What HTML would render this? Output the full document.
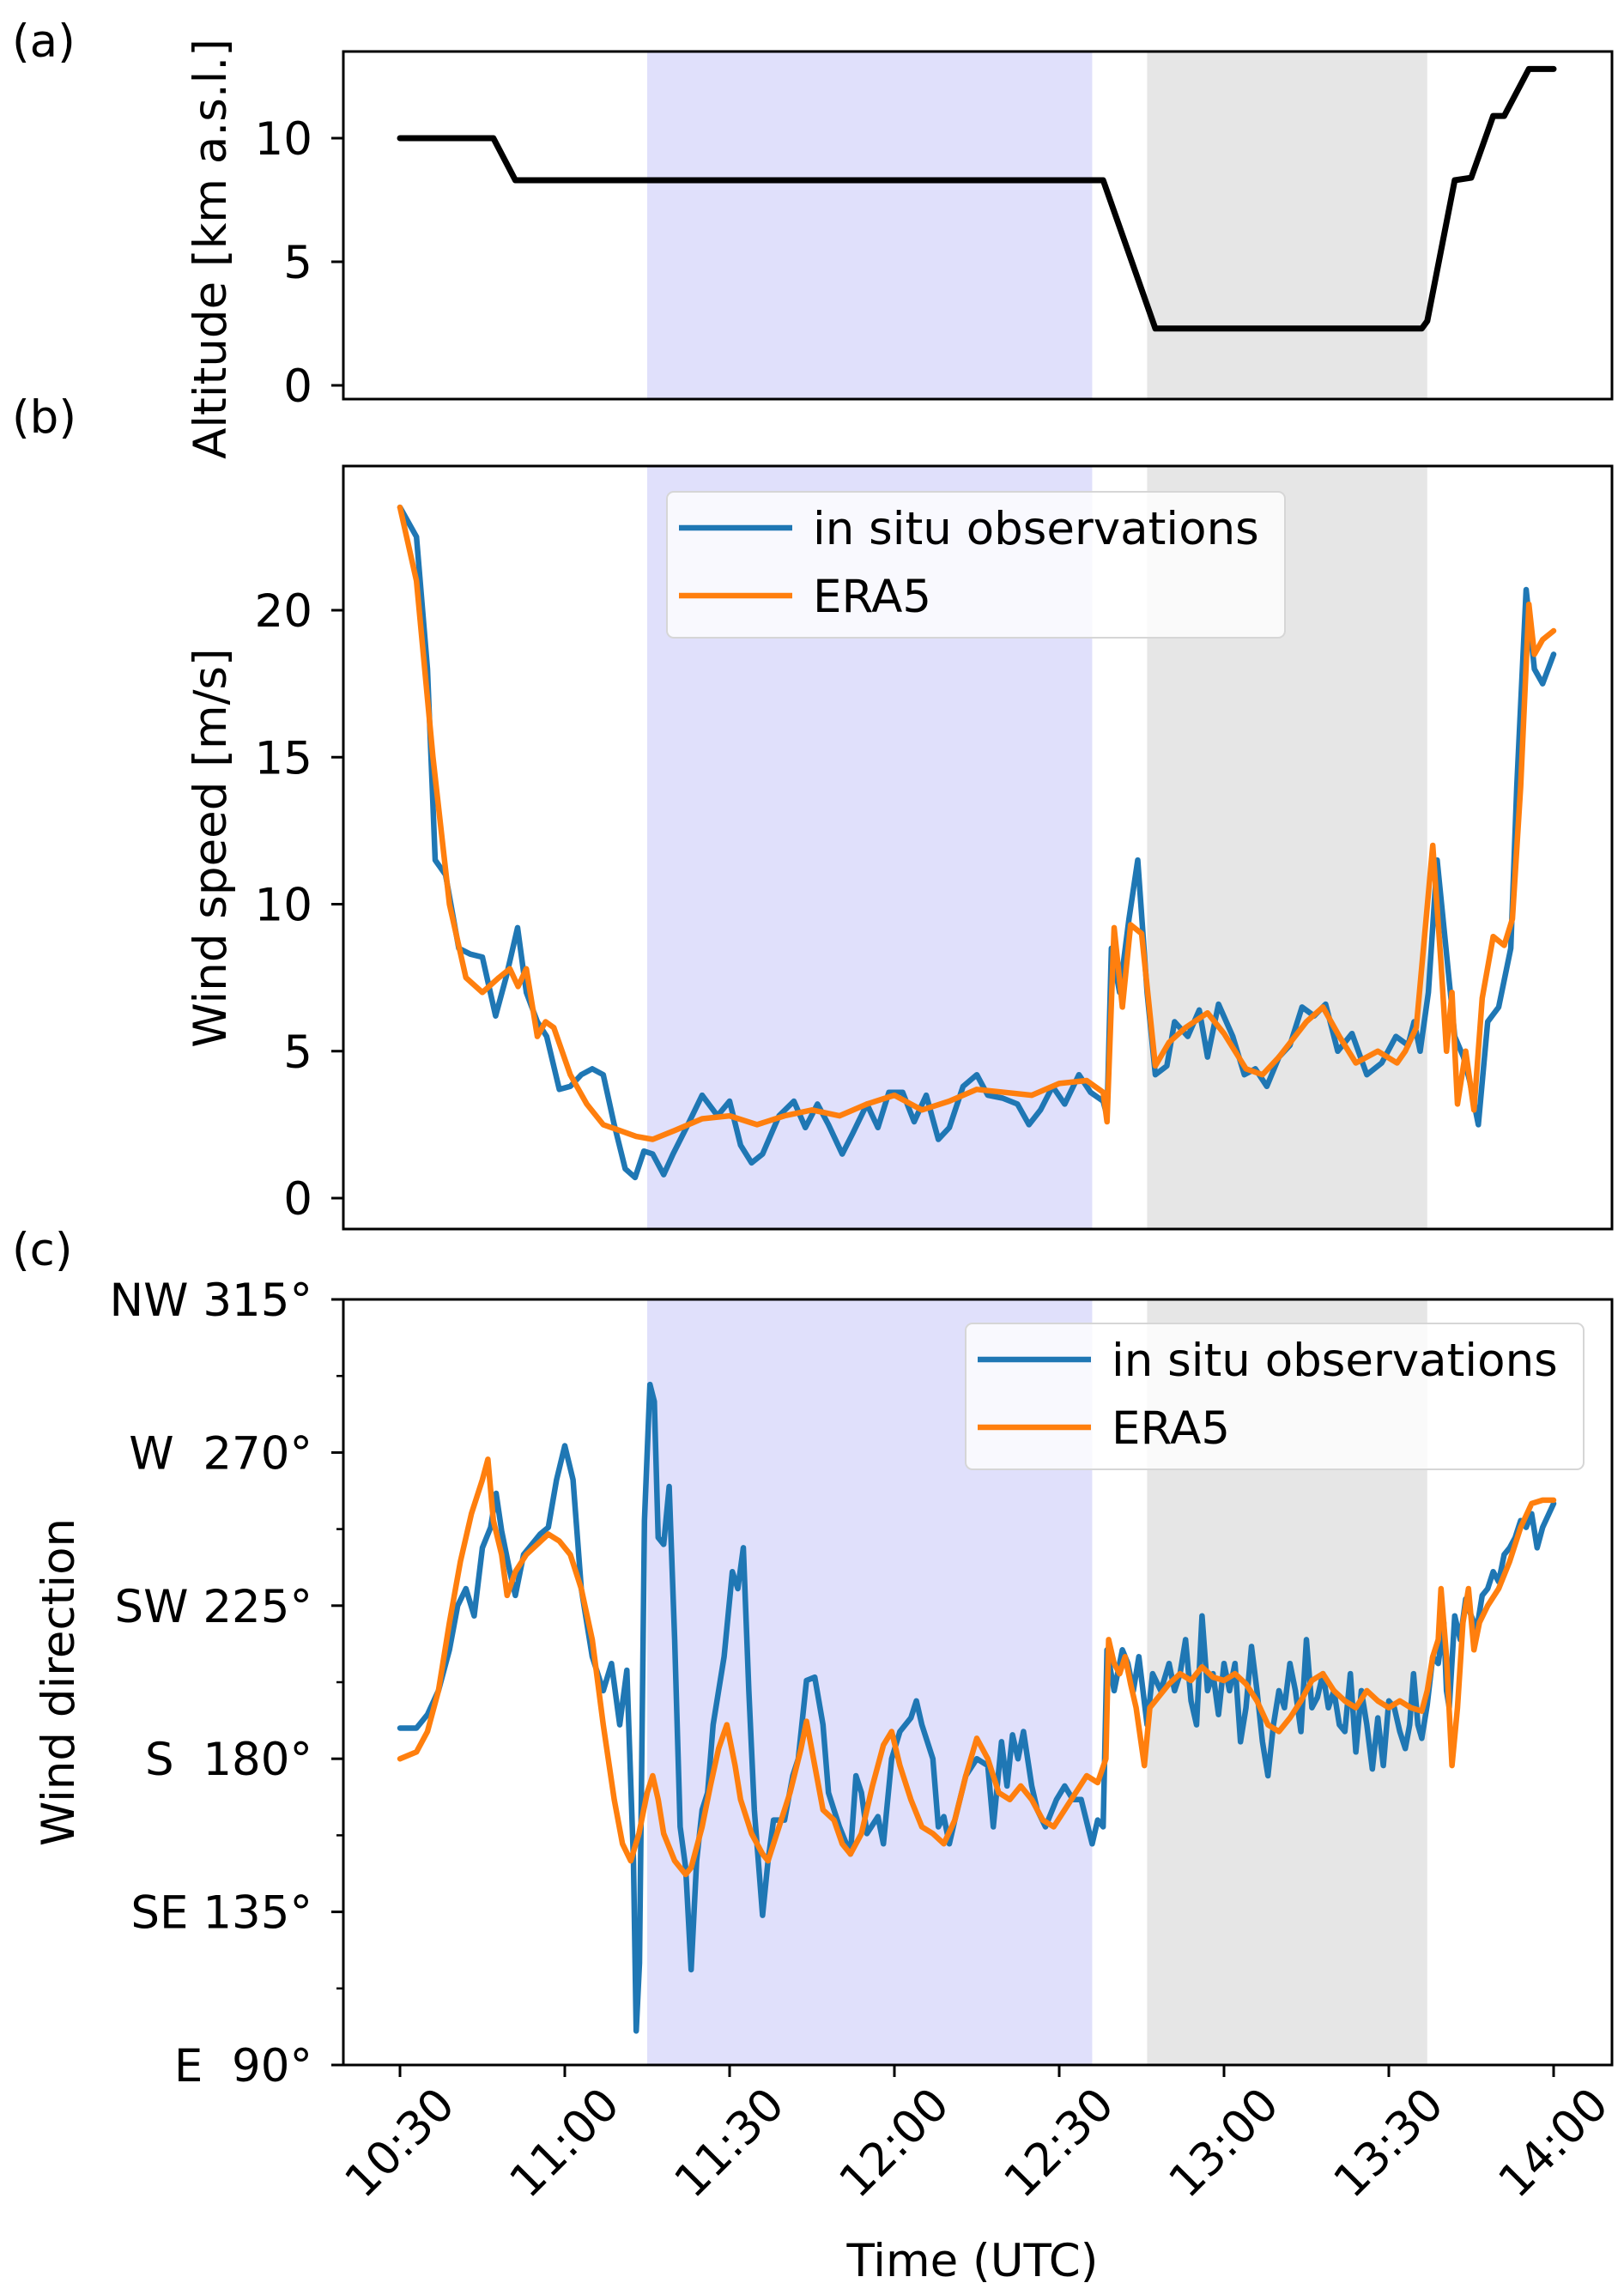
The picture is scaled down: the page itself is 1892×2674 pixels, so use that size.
<!DOCTYPE html>
<html><head><meta charset="utf-8"><style>
html,body{margin:0;padding:0;background:#fff;}
svg{display:block;font-family:"DejaVu Sans","Liberation Sans",sans-serif;}
</style></head><body>
<svg id="chart" width="1892" height="2674" viewBox="0 0 1892 2674" xmlns="http://www.w3.org/2000/svg"></svg>
<script>
// ---- data (minutes after 10:30 UTC) ----
const xTickLabels = ["10:30","11:00","11:30","12:00","12:30","13:00","13:30","14:00"];
const xTickMinutes = [0,30,60,90,120,150,180,210];
const blueBand = [45,126];
const grayBand = [136,187];
const altT = [0,17,21,128,137.5,186,187,192,195,199,201,205.5,210];
const altV = [10,10,8.3,8.3,2.3,2.3,2.6,8.3,8.4,10.9,10.9,12.8,12.8];
const spdObsT = [0,3,5,6.4,8.3,10.7,12.8,15,17.4,19.3,21.4,23,25,26.7,29,31,33,35,37,39,41,42.8,44.4,46,48,49.7,52.4,55,57.8,60,62,64,66,69,71.7,73.8,76,78,80.5,82.4,85,87,89,91.5,93.6,95.8,98,100,102.5,105,107,109.7,112.4,114.5,116.6,118.8,121,123.6,125.7,128,128.7,129.5,131,132.7,134.3,136,137.5,139.6,141,143.4,145.5,147,149,151.6,153.7,155.7,157.8,160,162,164.2,166.4,168.5,170.7,173.3,176,178.7,181.3,183.5,184.6,185.7,187.2,188.8,190.4,192,193.6,194.7,196.3,198,200,202.2,203.3,205,206.5,208,210];
const spdObsV = [23.5,22.5,18,11.5,11,8.5,8.3,8.2,6.2,7.5,9.2,7,6,5.5,3.7,3.8,4.2,4.4,4.2,2.5,1,0.7,1.6,1.5,0.8,1.5,2.5,3.5,2.8,3.3,1.8,1.2,1.5,2.8,3.3,2.4,3.2,2.5,1.5,2.2,3.2,2.4,3.6,3.6,2.6,3.5,2.0,2.4,3.8,4.2,3.5,3.4,3.2,2.5,3.0,3.8,3.2,4.2,3.6,3.3,2.8,8.5,7.0,9.5,11.5,7.0,4.2,4.5,6,5.5,6.4,4.8,6.6,5.5,4.2,4.4,3.8,4.8,5.2,6.5,6.2,6.6,5.0,5.6,4.2,4.6,5.5,5.2,6,5,7,11.5,8.5,5.5,4.8,4.0,2.5,6.0,6.5,8.5,14,20.7,18,17.5,18.5];
const spdEraT = [0,3,6,9,12,15,18,20,21.5,23,25,26.5,28,31,34,37,40,43,46,50,55,60,65,70,75,80,85,90,95,100,105,110,115,120,125,128,128.7,130,131.5,133,135,137.5,140,143,147,150,154,157,160,165,168,171,174,178,181.5,183,185,188,189.5,190.5,191.5,192.5,194,195.5,197,199,201,202.5,204,205.5,206.5,208,210];
const spdEraV = [23.5,21,15,10,7.5,7,7.5,7.8,7.2,7.8,5.5,6,5.8,4.2,3.2,2.5,2.3,2.1,2.0,2.3,2.7,2.8,2.5,2.8,3.0,2.8,3.2,3.5,3.0,3.3,3.7,3.6,3.5,3.9,4.0,3.6,2.6,9.2,6.5,9.3,9.0,4.5,5.3,5.8,6.3,5.6,4.4,4.2,4.8,6,6.5,5.5,4.6,5.0,4.6,5.0,5.8,12,8,5,7,3.2,5,3,6.8,8.9,8.6,9.5,14,20.2,18.5,19,19.3];
const dirObsT = [0,3,5,7,9,10.5,12,13.5,15,16.5,17.5,18.5,20,21,22.5,24,25.5,27,28.5,30,31.5,33,35,37,38.5,40,41.3,42.5,43,43.6,44.5,45.5,46.3,47,48,49,50,51,52,53,54,55,56,57,59,60.5,61.5,62.5,63.5,64.5,66,67,68,70,71.5,72.5,74,75.5,77,78,79,80,82,83,84,85,87,88,89.5,91,93,94,95,97,98,99,100,101,103,105,107,108,109.5,110.5,111.5,112.5,113.5,115,116,117.5,119.5,121,122.5,124,126,127,128,128.7,130,131.5,132.5,133.5,134.5,136,137,138.5,140,141,142,143,144,145,146,147,148,149,150,151,152,153,154,155,156,157,158,159,160,161,162,163,164,165,166,167,168,169,170,171,172,173,174,175,176,177,178,179,180,181,182,183,183.8,184.5,185.3,186,187,188,189,190,190.5,191,192,193,194,195,196,197,198,199,200,201,202,203,204,205,206,207,208,210];
const dirObsV = [189,189,193,200,212,225,230,222,242,248,258,247,235,228,240,243,246,248,262,272,262,230,210,200,208,190,206,150,100,120,250,290,285,245,243,260,215,160,148,118,150,165,170,190,210,235,230,242,200,165,134,150,162,162,175,180,203,204,190,170,165,160,152,175,170,158,163,155,180,188,192,197,190,180,160,163,155,162,175,180,178,160,185,172,187,180,188,172,165,160,168,172,168,168,155,162,160,212,200,212,208,200,210,190,205,200,208,200,205,215,197,190,222,200,205,193,208,200,208,185,195,213,200,185,175,190,200,195,208,200,188,215,195,198,205,195,200,190,188,205,182,200,190,177,192,178,197,195,188,183,190,205,190,186,196,210,208,220,200,195,222,215,227,222,218,228,230,235,232,240,242,245,250,248,252,242,248,255];
const dirEraT = [0,3,5,7,9,11,13,15,16,17,18.5,19.5,21,23,25,27,29,31,33,35,37,39,40.5,42,43.5,45,46,47,48,50,52,53,55,56.5,58,59.5,61,62,64,66,67,69,71,73,74,75.5,77,79,80.5,82,84,86,88,89.5,91,93,95,97,99,101,103,105,107,109,111,113,115,117,119,121,123,125,127,128.5,129,130,131,132,133,134,135.5,136.5,138,140,142,144,146,148,150,152,154,156,158,160,162,164,166,168,170,172,174,176,178,180,182,184,186,187,188,189,189.5,190.5,191.5,192.5,193.5,194.5,195.5,196.5,198,200,202,204,206,208,210];
const dirEraV = [180,182,188,200,220,238,252,262,268,250,240,228,235,240,243,246,244,240,230,215,190,168,155,150,158,170,175,168,158,150,146,148,160,172,183,190,178,168,158,152,150,160,170,183,191,178,165,162,155,152,158,172,184,188,178,168,160,158,155,162,175,186,180,170,168,172,168,162,160,165,170,175,173,180,215,208,205,210,202,195,178,195,198,202,205,203,207,204,203,205,202,197,190,188,192,197,203,205,200,197,195,200,197,195,197,195,194,200,210,215,230,210,178,195,220,230,212,220,225,230,238,248,255,256,256];

const svg = document.getElementById('chart');
const NS = 'http://www.w3.org/2000/svg';
const BLUE = '#1f77b4', ORANGE = '#ff7f0e';
const AX_L = 400, AX_R = 1878;
const FS = 53;
const xs = m => 466 + m * 6.4;
function mk(tag, attrs, parent) {
  const e = document.createElementNS(NS, tag);
  for (const k in attrs) e.setAttribute(k, attrs[k]);
  (parent || svg).appendChild(e);
  return e;
}
function txt(s, attrs, parent) { const e = mk('text', attrs, parent); e.textContent = s; return e; }

const panels = [
  {id:'altitude', top:60, bot:465, y0v:0, y0p:449, y1v:10, y1p:161},
  {id:'wind-speed', top:543, bot:1432, y0v:0, y0p:1396, y1v:20, y1p:711},
  {id:'wind-direction', top:1514, bot:2406, y0v:90, y0p:2406, y1v:315, y1p:1514}
];
panels.forEach(p => { p.ys = v => p.y0p + (v - p.y0v) * (p.y1p - p.y0p) / (p.y1v - p.y0v); });

function drawPanel(p) {
  const g = mk('g', {});
  
  
  const b1 = mk('rect', {x: xs(blueBand[0]), y: p.top, width: xs(blueBand[1]) - xs(blueBand[0]), height: p.bot - p.top, fill: '#e0e0fb'}, g);
  
  
  const b2 = mk('rect', {x: xs(grayBand[0]), y: p.top, width: xs(grayBand[1]) - xs(grayBand[0]), height: p.bot - p.top, fill: '#e6e6e6'}, g);
  
  
  return g;
}
function line(g, T, V, ys, color, name, w) {
  const d = T.map((t, i) => (i ? 'L' : 'M') + xs(t).toFixed(1) + ',' + ys(V[i]).toFixed(1)).join('');
  const e = mk('path', {d: d, fill: 'none', stroke: color, 'stroke-width': w || 6.5, 'stroke-linejoin': 'round', 'stroke-linecap': 'round'}, g);
  
  
}
function frame(g, p) {
  const f = mk('rect', {x: AX_L, y: p.top, width: AX_R - AX_L, height: p.bot - p.top, fill: 'none', stroke: '#000', 'stroke-width': 3}, g);
  
  
}
function yTicks(g, p, vals, labels, minor) {
  vals.forEach((v, i) => {
    const y = p.ys(v);
    const t = mk('line', {x1: AX_L - 14, x2: AX_L, y1: y, y2: y, stroke: '#000', 'stroke-width': 3}, g);
    
    
    const l = txt(labels[i], {x: AX_L - 36, y: y + 19, 'text-anchor': 'end', 'font-size': FS, 'xml:space': 'preserve'}, g);
    l.style.whiteSpace = 'pre';
    
    
  });
  (minor || []).forEach(v => {
    const y = p.ys(v);
    const t = mk('line', {x1: AX_L - 8, x2: AX_L, y1: y, y2: y, stroke: '#000', 'stroke-width': 2.5}, g);
    
    
  });
}
function legend(g, x, y, name) {
  const lg = mk('g', {}, g);
  
  
  const r = mk('rect', {x: x, y: y, width: 720, height: 170, rx: 8, fill: '#fff', 'fill-opacity': 0.8, stroke: '#d6d6d6', 'stroke-width': 2}, lg);
  
  
  [[BLUE, 'in situ observations', 42], [ORANGE, 'ERA5', 121]].forEach(([c, s, dy]) => {
    const l = mk('line', {x1: x + 14, x2: x + 146, y1: y + dy, y2: y + dy, stroke: c, 'stroke-width': 6.5}, lg);
    
    
    const t = txt(s, {x: x + 170, y: y + dy + 19, 'font-size': FS}, lg);
    
    
  });
}
function ylabel(s, x, y, name) {
  const t = txt(s, {x: x, y: y, 'text-anchor': 'middle', 'font-size': FS, transform: 'rotate(-90 ' + x + ' ' + y + ')'});
  
  
}
function plabel(s, y, name) {
  const t = txt(s, {x: 14, y: y, 'font-size': FS});
  
  
}

// Panel a
let p = panels[0], g = drawPanel(p);
line(g, altT, altV, p.ys, '#000', 'altitude-line', 7);
frame(g, p);
yTicks(g, p, [0,5,10], ['0','5','10']);
ylabel('Altitude [km a.s.l.]', 263, 290, 'y-axis-title-altitude');
plabel('(a)', 66, 'panel-label-a');

// Panel b
p = panels[1]; g = drawPanel(p);
line(g, spdObsT, spdObsV, p.ys, BLUE, 'speed-observations-line');
line(g, spdEraT, spdEraV, p.ys, ORANGE, 'speed-era5-line');
frame(g, p);
yTicks(g, p, [0,5,10,15,20], ['0','5','10','15','20']);
legend(g, 777, 573, 'speed-legend');
ylabel('Wind speed [m/s]', 263, 988, 'y-axis-title-wind-speed');
plabel('(b)', 504, 'panel-label-b');

// Panel c
p = panels[2]; g = drawPanel(p);
line(g, dirObsT, dirObsV, p.ys, BLUE, 'direction-observations-line');
line(g, dirEraT, dirEraV, p.ys, ORANGE, 'direction-era5-line');
frame(g, p);
yTicks(g, p, [90,135,180,225,270,315], ['E  90°','SE 135°','S  180°','SW 225°','W  270°','NW 315°'], [112.5,157.5,202.5,247.5,292.5]);
legend(g, 1125, 1542, 'direction-legend');
ylabel('Wind direction', 86, 1960, 'y-axis-title-wind-direction');
plabel('(c)', 1474, 'panel-label-c');

// x ticks
xTickMinutes.forEach((m, i) => {
  const x = xs(m);
  const t = mk('line', {x1: x, x2: x, y1: 2406, y2: 2420, stroke: '#000', 'stroke-width': 3});
  
  
  const l = txt(xTickLabels[i], {x: x, y: 2497, 'text-anchor': 'middle', 'dominant-baseline': 'central', 'font-size': FS, transform: 'rotate(-45 ' + x + ' 2497)'});
  
  
});
const xt = txt('Time (UTC)', {x: 1133, y: 2652, 'text-anchor': 'middle', 'font-size': FS});


</script>
</body></html>
